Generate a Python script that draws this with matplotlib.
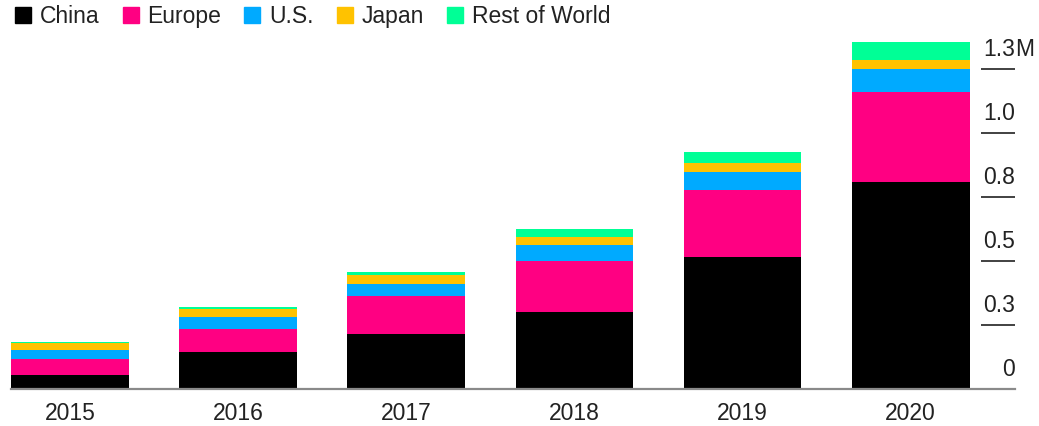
import matplotlib.pyplot as plt
from matplotlib.patches import Patch
from matplotlib.transforms import offset_copy

plt.rcParams['font.family'] = ['Liberation Sans', 'DejaVu Sans']

years = ['2015', '2016', '2017', '2018', '2019', '2020']

# sales in millions
china = [0.053, 0.143, 0.213, 0.298, 0.514, 0.807]
europe = [0.062, 0.089, 0.150, 0.202, 0.260, 0.352]
us = [0.035, 0.048, 0.045, 0.059, 0.072, 0.091]
japan = [0.026, 0.029, 0.035, 0.032, 0.033, 0.032]
rest = [0.006, 0.010, 0.011, 0.032, 0.045, 0.072]

series = [('China', china, '#000000'),
          ('Europe', europe, '#ff0082'),
          ('U.S.', us, '#00aaff'),
          ('Japan', japan, '#ffc200'),
          ('Rest of World', rest, '#00ff96')]

tick_vals = [0, 0.25, 0.5, 0.75, 1.0, 1.25]
tick_labels = ['0', '0.3', '0.5', '0.8', '1.0', '1.3']

txt = '#222222'
fs = 16.5

fig = plt.figure(figsize=(10.39, 4.26), dpi=100)
ax = fig.add_axes([11 / 1039, 37.5 / 426, 1004 / 1039, 1.38 * 256 / 426])

x = list(range(len(years)))
bottom = [0.0] * len(years)
for name, vals, col in series:
    ax.bar(x, vals, width=0.7, bottom=bottom, color=col, label=name)
    bottom = [b + v for b, v in zip(bottom, vals)]

ax.set_xlim(-0.35, 5.62)
ax.set_ylim(0, 1.38)

for s in ['top', 'left', 'right']:
    ax.spines[s].set_visible(False)
ax.spines['bottom'].set_color('#8a8a8a')
ax.spines['bottom'].set_linewidth(1.6)

ax.set_yticks([])
ax.set_xticks(x, years)
ax.tick_params(axis='x', length=0, pad=10, labelsize=fs, labelcolor=txt)

# right-hand value scale: short rules with labels sitting on top
ytr = ax.get_yaxis_transform()
ax.hlines(tick_vals[1:], 0.966, 1.0, transform=ytr, color='#333333', lw=1.3)
lab_tr = offset_copy(ytr, fig=fig, y=7, units='dots')
for v, lab in zip(tick_vals, tick_labels):
    ax.text(1.0, v, lab, transform=lab_tr, ha='right', va='bottom',
            fontsize=fs, color=txt)
ax.text(1.0, tick_vals[-1], 'M', transform=lab_tr, ha='left', va='bottom',
        fontsize=fs, color=txt)

handles = [Patch(color=col, label=name) for name, _, col in series]
fig.legend(handles=handles, loc='upper left', bbox_to_anchor=(15 / 1039, 1 - 5 / 426),
           ncol=5, frameon=False, fontsize=fs, handlelength=0.7, handleheight=0.7,
           handletextpad=0.39, columnspacing=1.0, borderpad=0, borderaxespad=0,
           labelcolor=txt)

fig.savefig('out.png', dpi=100)
